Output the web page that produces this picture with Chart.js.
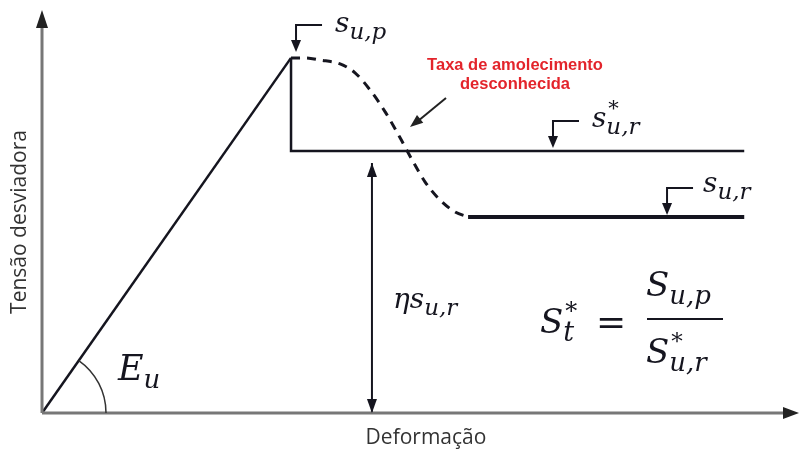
<!DOCTYPE html>
<html>
<head>
<meta charset="utf-8">
<script src="https://cdn.jsdelivr.net/npm/chart.js@4.4.1/dist/chart.umd.min.js"></script>
<style>
  html, body { margin: 0; padding: 0; background: #fff; }
  #wrap { position: relative; width: 803px; height: 452px; }
</style>
</head>
<body>
<div id="wrap"><canvas id="curve"></canvas></div>
<script>
// Deformação (x) vs Tensão desviadora (y); peak normalised to (10, 100)
const elasticX = [0, 10];
const elasticY = [0, 100];
const dropX = [10, 10, 28.2];          // drop from s_u,p then plateau at s*_u,r
const dropY = [100, 73.8, 73.8];
const softenX = [10, 10.56, 11.16, 11.97, 12.57, 13.17, 13.78, 14.38, 14.86, 15.38, 15.98, 16.59, 17.11];
const softenY = [100, 100, 99.4, 98.3, 95.8, 91.0, 84.8, 77.5, 71.3, 65.1, 60.0, 56.6, 55.2];
const residualX = [17.11, 28.2];       // s_u,r plateau
const residualY = [55.2, 55.2];
const axisEnds = [30.4, 113.5];        // arrow tips of the x and y axes
const etaX = 13.25;                    // eta * s_u,r dimension line
const etaY = [0, 70.4];

const pts = (xs, ys) => xs.map((x, i) => ({ x, y: ys[i] }));
const INK = "#15151f";
const SERIF = "'DejaVu Serif'";
const it = (px) => `italic ${px}px ${SERIF}`;

function head(ctx, x1, y1, x2, y2, len, half, color) {
  const a = Math.atan2(y2 - y1, x2 - x1);
  ctx.save();
  ctx.fillStyle = color;
  ctx.translate(x2, y2);
  ctx.rotate(a);
  ctx.beginPath();
  ctx.moveTo(0, 0);
  ctx.lineTo(-len, -half);
  ctx.lineTo(-len, half);
  ctx.closePath();
  ctx.fill();
  ctx.restore();
}

function text(ctx, s, x, y, font, color = INK, align = "left") {
  ctx.font = font;
  ctx.fillStyle = color;
  ctx.textAlign = align;
  ctx.textBaseline = "alphabetic";
  ctx.fillText(s, x, y);
}

// main symbol with subscript (and optional star superscript)
function sym(ctx, x, y, main, sub, star, big, small) {
  text(ctx, main, x, y, it(big));
  ctx.font = it(big);
  const w = ctx.measureText(main).width;
  text(ctx, sub, x + w, y + small * 0.3, it(small));
  if (star) text(ctx, "*", x + w + 2, y - big * 0.42, `${Math.round(small * 0.9)}px ${SERIF}`);
}

function bracket(ctx, tip) {
  // little "┌" pointer with arrow down to the level
  const [x, y] = tip;
  ctx.save();
  ctx.strokeStyle = INK;
  ctx.lineWidth = 2;
  ctx.beginPath();
  ctx.moveTo(x + 26, y - 27);
  ctx.lineTo(x, y - 27);
  ctx.lineTo(x, y - 6);
  ctx.stroke();
  ctx.restore();
  head(ctx, x, y - 14, x, y, 12, 5, INK);
}

const decor = {
  id: "decor",
  afterDatasetsDraw(chart) {
    const { ctx } = chart;
    const sx = chart.scales.x, sy = chart.scales.y;
    const P = (dx, dy) => [sx.getPixelForValue(dx), sy.getPixelForValue(dy)];
    const [ox, oy] = P(0, 0);
    const [pkx, pky] = P(elasticX[1], elasticY[1]);

    // axis arrows
    const [axX] = P(axisEnds[0], 0);
    const [, axY] = P(0, axisEnds[1]);
    head(ctx, ox, oy, ox, axY, 18, 6, "#222");
    head(ctx, ox, oy, axX, oy, 16, 6, "#222");

    // E_u angle arc
    ctx.save();
    ctx.strokeStyle = "#333";
    ctx.lineWidth = 1.5;
    ctx.beginPath();
    ctx.arc(ox, oy, 64, -Math.atan2(oy - pky, pkx - ox), 0);
    ctx.stroke();
    ctx.restore();

    // eta dimension arrow heads
    const [ex, ey0] = P(etaX, etaY[0]);
    const [, ey1] = P(etaX, etaY[1]);
    head(ctx, ex, ey0 - 20, ex, ey1, 14, 5, INK);
    head(ctx, ex, ey1 + 20, ex, ey0, 14, 5, INK);

    // pointers to the three levels
    bracket(ctx, [pkx + 5, pky - 6]);
    const [rsx, rsy] = P(20.52, dropY[1]);
    bracket(ctx, [rsx, rsy - 3]);
    const [rrx, rry] = P(25.1, residualY[0]);
    bracket(ctx, [rrx, rry - 2]);

    // labels s_u,p, s*_u,r, s_u,r
    sym(ctx, pkx + 44, pky - 26, "s", "u,p", false, 28, 23);
    sym(ctx, rsx + 39, rsy - 24, "s", "u,r", true, 28, 23);
    sym(ctx, rrx + 36, rry - 25, "s", "u,r", false, 28, 23);

    // red note + arrow
    text(ctx, "Taxa de amolecimento", 515, 70, "bold 16.5px 'Liberation Sans'", "#e3242b", "center");
    text(ctx, "desconhecida", 515, 89, "bold 16.5px 'Liberation Sans'", "#e3242b", "center");
    ctx.save();
    ctx.strokeStyle = "#222";
    ctx.lineWidth = 2;
    ctx.beginPath();
    ctx.moveTo(446, 98);
    ctx.lineTo(418, 121);
    ctx.stroke();
    ctx.restore();
    head(ctx, 446, 98, 410, 127, 13, 5, "#222");

    // E_u and eta s_u,r
    sym(ctx, 118, 380, "E", "u", false, 35, 26);
    sym(ctx, 393, 308, "ηs", "u,r", false, 28, 23);

    // S*_t = S_u,p / S*_u,r
    sym(ctx, 540, 333, "S", "t", true, 34, 27);
    text(ctx, "=", 596, 334, `36px ${SERIF}`);
    ctx.fillStyle = INK;
    ctx.fillRect(647, 318, 76, 2);
    sym(ctx, 646, 296, "S", "u,p", false, 34, 26);
    sym(ctx, 646, 363, "S", "u,r", true, 34, 26);

    // axis titles
    text(ctx, "Deformação", 426, 444, "21px 'Open Sans'", "#333", "center");
    ctx.save();
    ctx.translate(26, 222);
    ctx.rotate(-Math.PI / 2);
    text(ctx, "Tensão desviadora", 0, 0, "21px 'Open Sans'", "#333", "center");
    ctx.restore();
  },
};

const line = (data, width, extra = {}) => ({
  data, showLine: true, pointRadius: 0, borderColor: INK, borderWidth: width, fill: false, ...extra,
});

new Chart(document.getElementById("curve"), {
  type: "scatter",
  data: {
    datasets: [
      line(pts([0, 0], [0, axisEnds[1] - 4]), 3, { borderColor: "#777" }),
      line(pts([0, axisEnds[0] - 0.5], [0, 0]), 3, { borderColor: "#777" }),
      line(pts(elasticX, elasticY), 2.5),
      line(pts(dropX, dropY), 2.5),
      line(pts(softenX, softenY), 3, { borderDash: [9, 7], tension: 0.4, cubicInterpolationMode: "monotone" }),
      line(pts(residualX, residualY), 4),
      line(pts([etaX, etaX], etaY), 2),
    ],
  },
  options: {
    responsive: true,
    maintainAspectRatio: false,
    animation: false,
    layout: { padding: 0 },
    scales: {
      x: { type: "linear", min: -1.687, max: 30.56, display: false },
      y: { type: "linear", min: -11.0, max: 116.3, display: false },
    },
    plugins: { legend: { display: false }, tooltip: { enabled: false } },
  },
  plugins: [decor],
});
</script>
</body>
</html>
